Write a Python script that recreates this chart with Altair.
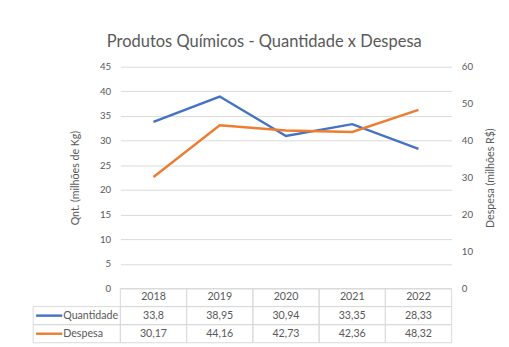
import altair as alt
import pandas as pd

years = ["2018", "2019", "2020", "2021", "2022"]
quantidade = [33.8, 38.95, 30.94, 33.35, 28.33]
despesa = [30.17, 44.16, 42.73, 42.36, 48.32]
series = ["Quantidade", "Despesa"]
colors = ["#4472C4", "#ED7D31"]
rows = ["ano", "Quantidade", "Despesa"]

FONT = "Lato"
TXT = "#595959"
GRID = "#D9D9D9"
W, H = 342, 229


def fmt(v):
    return f"{v:g}".replace(".", ",")


df = pd.DataFrame({"ano": years, "Quantidade": quantidade, "Despesa": despesa})

xenc = alt.X("ano:O", axis=None, scale=alt.Scale(domain=years, padding=0.5))

left = alt.Chart(df).mark_line(color=colors[0], strokeWidth=2.5).encode(
    x=xenc,
    y=alt.Y(
        "Quantidade:Q",
        scale=alt.Scale(domain=[0, 45], nice=False),
        axis=alt.Axis(
            title="Qnt. (milhões de Kg)", orient="left", values=list(range(0, 50, 5)),
            grid=True, gridColor=GRID, domain=False, ticks=False, labelPadding=10,
            titlePadding=20, labelFont=FONT, titleFont=FONT, labelFontSize=10,
            titleFontSize=11, titleFontWeight="normal", labelColor=TXT, titleColor=TXT,
        ),
    ),
)

right = alt.Chart(df).mark_line(color=colors[1], strokeWidth=2.5).encode(
    x=xenc,
    y=alt.Y(
        "Despesa:Q",
        scale=alt.Scale(domain=[0, 60], nice=False),
        axis=alt.Axis(
            title="Despesa (milhões R$)", orient="right", values=list(range(0, 70, 10)),
            grid=False, domain=False, ticks=False, labelPadding=10, titleAngle=270,
            titlePadding=24, labelFont=FONT, titleFont=FONT, labelFontSize=10,
            titleFontSize=11, titleFontWeight="normal", labelColor=TXT, titleColor=TXT,
        ),
    ),
)

top = alt.layer(left, right).resolve_scale(y="independent").properties(width=W, height=H)

cells = []
for i, y in enumerate(years):
    cells.append({"ano": y, "linha": "ano", "txt": y})
    cells.append({"ano": y, "linha": "Quantidade", "txt": fmt(quantidade[i])})
    cells.append({"ano": y, "linha": "Despesa", "txt": fmt(despesa[i])})
tdf = pd.DataFrame(cells)
ldf = pd.DataFrame({"linha": series, "cor": colors})

xb = alt.X("ano:O", axis=None, scale=alt.Scale(domain=years, paddingInner=0, paddingOuter=0))
yb = alt.Y("linha:N", axis=None, scale=alt.Scale(domain=rows, paddingInner=0, paddingOuter=0))

cell_rect = alt.Chart(tdf).mark_rect(fillOpacity=0, stroke=GRID, strokeWidth=1).encode(x=xb, y=yb)
cell_txt = alt.Chart(tdf).mark_text(font=FONT, fontSize=11, color=TXT).encode(x=xb, y=yb, text="txt:N")

lab_rect = alt.Chart(ldf).mark_rect(fillOpacity=0, stroke=GRID, strokeWidth=1).encode(
    x=alt.value(-90), x2=alt.value(0), y=yb)
lab_rule = alt.Chart(ldf).mark_rule(strokeWidth=2.5).encode(
    x=alt.value(-87), x2=alt.value(-60),
    y=alt.Y("linha:N", axis=None, bandPosition=0.5,
            scale=alt.Scale(domain=rows, paddingInner=0, paddingOuter=0)),
    color=alt.Color("cor:N", scale=None),
)
lab_txt = alt.Chart(ldf).mark_text(font=FONT, fontSize=11, color=TXT, align="left").encode(
    x=alt.value(-59), y=yb, text="linha:N")

table = alt.layer(cell_rect, cell_txt, lab_rect, lab_rule, lab_txt).properties(width=W, height=56)

chart = alt.vconcat(top, table, spacing=0, bounds="flush").properties(
    title=alt.TitleParams(
        "Produtos Químicos - Quantidade x Despesa", font=FONT, fontSize=17,
        fontWeight="normal", color=TXT, anchor="middle", frame="bounds", offset=11,
    ),
    padding={"left": 25, "top": 21, "right": 5, "bottom": 5},
).configure_view(stroke=None)

chart.save("out.html", embed_options={"renderer": "svg", "actions": False})
